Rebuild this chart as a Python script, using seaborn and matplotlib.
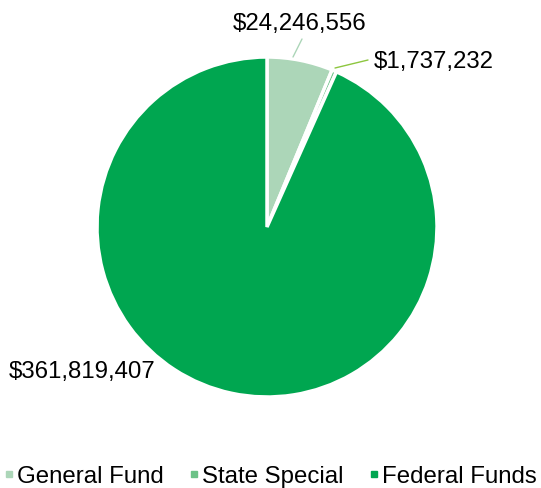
import matplotlib
matplotlib.use("Agg")
import matplotlib.pyplot as plt
import seaborn as sns
from matplotlib.lines import Line2D

categories = ["General Fund", "State Special", "Federal Funds"]
values = [24246556, 1737232, 361819407]
colors = ["#acd6b8", "#6cc287", "#00a650"]
leader_colors = ["#acd6b8", "#8dc63f", "#00a650"]

sns.set_theme(style="white")
plt.rcParams["font.family"] = ["Liberation Sans", "DejaVu Sans"]
plt.rcParams["text.color"] = "black"

W, H = 541, 489
fig = plt.figure(figsize=(W / 100, H / 100), dpi=100)
ax = fig.add_axes([0, 0, 1, 1])

cx, cy, r = 267, H - 228, 170
wedges, _ = ax.pie(values, colors=colors, startangle=90, counterclock=False,
                   center=(cx, cy), radius=r, frame=True,
                   wedgeprops=dict(edgecolor="white", linewidth=2.5))
ax.set_xlim(0, W)
ax.set_ylim(0, H)
ax.set_aspect("equal")
ax.axis("off")

fs = 17.3
labels = ["${:,}".format(v) for v in values]
ax.text(299.5, H - 24, labels[0], ha="center", va="center", fontsize=fs, color="black")
ax.plot([293, 302], [H - 58, H - 40], color=leader_colors[0], lw=1)
ax.text(374, H - 62, labels[1], ha="left", va="center", fontsize=fs, color="black")
ax.plot([335, 368], [H - 69, H - 61], color=leader_colors[1], lw=1)
ax.text(9, H - 372, labels[2], ha="left", va="center", fontsize=fs, color="black")

handles = [Line2D([0], [0], marker="s", linestyle="", markersize=4.5,
                  markerfacecolor=c, markeredgecolor=c) for c in colors]
leg = ax.legend(handles, categories, loc="center", bbox_to_anchor=(271 / W, 1 - 477 / H),
                ncol=3, frameon=False, fontsize=fs, handlelength=0.3,
                handletextpad=0.2, columnspacing=1.1, borderaxespad=0, borderpad=0)
for t in leg.get_texts():
    t.set_color("black")

fig.savefig("out.png", dpi=100)
